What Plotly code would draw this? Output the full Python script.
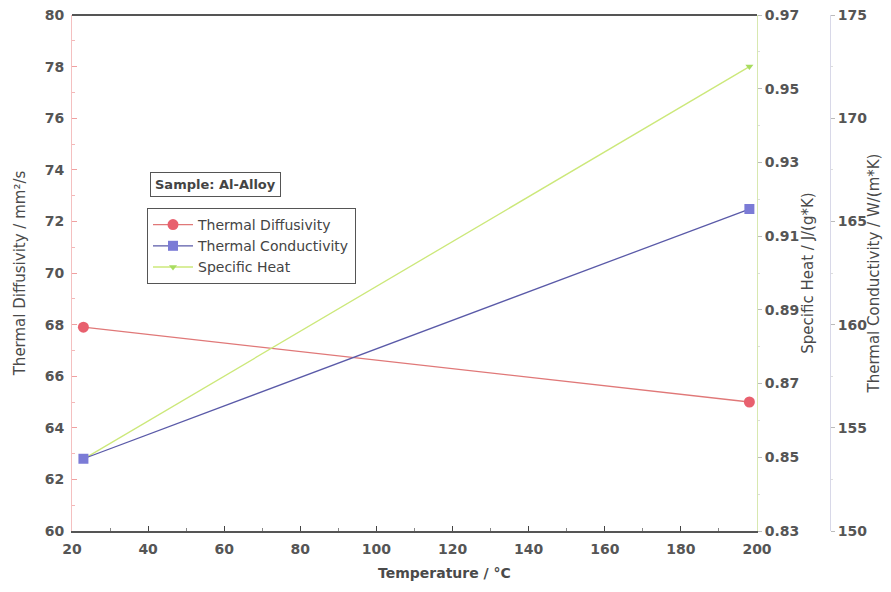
import plotly.graph_objects as go

temperature = [23, 198]
diffusivity = [67.9, 65.0]          # mm²/s
conductivity = [153.5, 165.6]       # W/(m*K)
specific_heat = [0.8495, 0.956]     # J/(g*K)

x_ticks = [20, 40, 60, 80, 100, 120, 140, 160, 180, 200]
cp_ticks = [0.83, 0.85, 0.87, 0.89, 0.91, 0.93, 0.95, 0.97]
cp_labels = ["0.83", "0.85", "0.87", "0.89", "0.91", "0.93", "0.95", "0.97"]

FONT = "DejaVu Sans, Verdana, sans-serif"
TICKC = "#555555"
TITLEC = "#4a4a4a"
TICKFONT = dict(size=14, color=TICKC, family=FONT, weight="bold")
YTITLEFONT = dict(size=15, color=TITLEC, family=FONT)

fig = go.Figure()
fig.add_trace(go.Scatter(
    x=temperature, y=diffusivity, name="Thermal Diffusivity",
    mode="lines+markers", line=dict(color="#e07878", width=1.3),
    marker=dict(symbol="circle", size=11, color="#e8606e"), yaxis="y"))
fig.add_trace(go.Scatter(
    x=temperature, y=conductivity, name="Thermal Conductivity",
    mode="lines+markers", line=dict(color="#5a5aa8", width=1.3),
    marker=dict(symbol="square", size=10, color="#7b7bd6"), yaxis="y3"))
fig.add_trace(go.Scatter(
    x=temperature, y=specific_heat, name="Specific Heat",
    mode="lines+markers", line=dict(color="#cce87a", width=1.3),
    marker=dict(symbol="triangle-down", size=7, color="#a8dc60"), yaxis="y2"))

# page body has an 8px margin; figure coordinates = screen coordinates - 8
W, H = 875, 576
L, T, R, B = 64, 7, 5, 53
PW = W - L - R
PH = H - T - B
x_end = (749 - L) / PW
fig.update_layout(
    width=W, height=H,
    margin=dict(l=L, r=R, t=T, b=B, autoexpand=False),
    paper_bgcolor="white", plot_bgcolor="white",
    font=dict(family=FONT, size=13, color=TICKC),
    showlegend=True,
    legend=dict(x=(139 - L) / PW, y=1 - (200 - T) / PH, xanchor="left", yanchor="top",
                bordercolor="#555555", borderwidth=1, bgcolor="white",
                font=dict(family=FONT, size=14, color="#444444"),
                tracegroupgap=0, itemwidth=40),
    xaxis=dict(domain=[0, x_end], range=[20, 200], tickvals=x_ticks, automargin=False,
               ticks="inside", ticklen=5, tickcolor="#444444", ticklabelstandoff=4,
               ticklabeloverflow="allow",
               minor=dict(dtick=10, ticks="inside", ticklen=3, tickcolor="#888888"),
               showgrid=False, zeroline=False, showline=True, linecolor="#555555", linewidth=2,
               tickfont=TICKFONT),
    yaxis=dict(range=[60, 80], dtick=2, ticks="inside", ticklen=5, tickcolor="#f0a0a0",
               automargin=False, ticklabelstandoff=4, ticklabeloverflow="allow",
               minor=dict(dtick=1, ticks="inside", ticklen=3, tickcolor="#f4b8b8"),
               showgrid=False, zeroline=False, showline=True, linecolor="#f4c0c0", linewidth=1,
               tickfont=TICKFONT,
               title=dict(text="Thermal Diffusivity / mm²/s", font=YTITLEFONT, standoff=15)),
    yaxis2=dict(range=[0.83, 0.97], tickvals=cp_ticks, ticktext=cp_labels,
                overlaying="y", side="right", anchor="x", automargin=False,
                ticks="outside", ticklen=4, tickcolor="#bbbbbb", ticklabeloverflow="allow",
                minor=dict(dtick=0.01, ticks="outside", ticklen=2, tickcolor="#dddddd"),
                showgrid=False, zeroline=False, showline=True, linecolor="#d8e8b0", linewidth=1,
                tickfont=TICKFONT,
                title=dict(text="Specific Heat / J/(g*K)", font=YTITLEFONT, standoff=4)),
    yaxis3=dict(range=[150, 175], dtick=5, overlaying="y", side="right", anchor="free",
                position=(822 - L) / PW, automargin=False, ticklabeloverflow="allow",
                ticks="outside", ticklen=4, tickcolor="#bbbbbb",
                minor=dict(dtick=2.5, ticks="outside", ticklen=2, tickcolor="#dddddd"),
                showgrid=False, zeroline=False, showline=True, linecolor="#d8d8e8", linewidth=1,
                tickfont=TICKFONT,
                title=dict(text="Thermal Conductivity / W/(m*K)", font=YTITLEFONT, standoff=9)),
    shapes=[dict(type="line", xref="paper", yref="paper", x0=0, x1=x_end, y0=1, y1=1,
                 line=dict(color="#555555", width=2))],
    annotations=[
        dict(text="<b>Sample: Al-Alloy</b>", xref="paper", yref="paper",
             x=(142 - L) / PW, y=1 - (164 - T) / PH, xanchor="left", yanchor="top",
             showarrow=False, bordercolor="#555555", borderwidth=1, borderpad=4,
             bgcolor="white", font=dict(size=13, color="#444444", family=FONT)),
        dict(text="<b>Temperature / °C</b>", xref="paper", yref="paper",
             x=(436 - L) / PW, y=1 - (565 - T) / PH, xanchor="center", yanchor="middle",
             showarrow=False, font=dict(size=14, color=TITLEC, family=FONT)),
    ],
)

fig.write_html("out.html")
